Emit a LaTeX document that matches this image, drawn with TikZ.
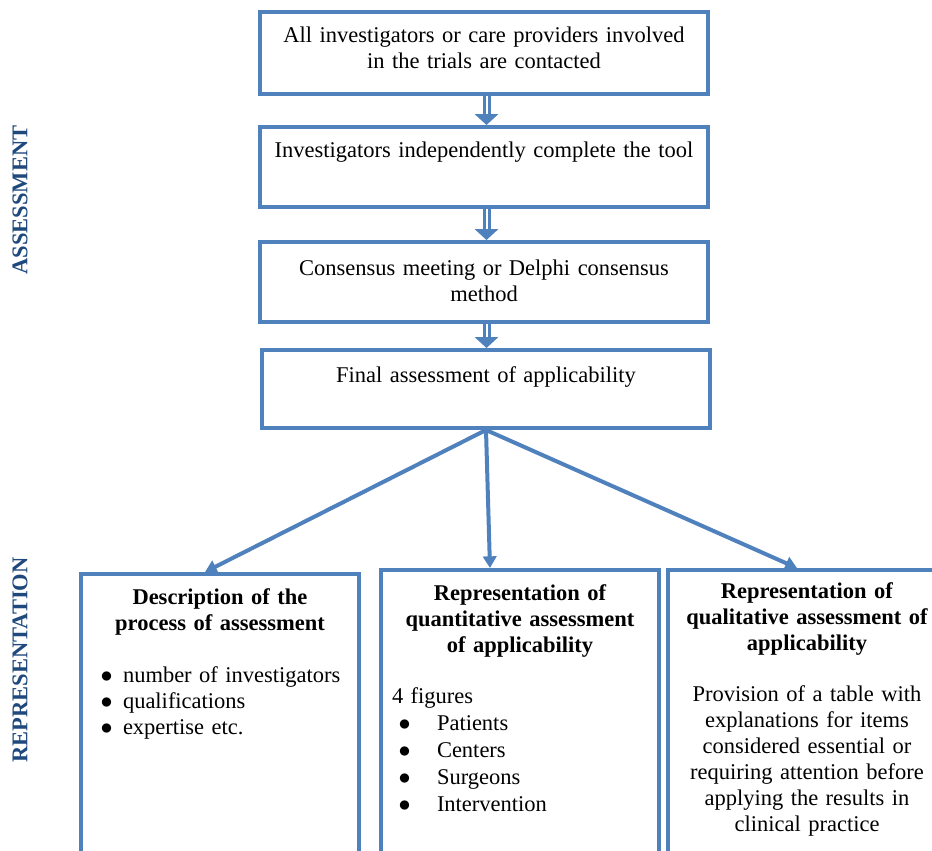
\documentclass[tikz,border=0pt]{standalone}
\usepackage{fontspec}
\setmainfont{Liberation Serif}
\usepackage{tikz}
\usetikzlibrary{positioning, arrows.meta}

\definecolor{boxblue}{HTML}{4F81BD}
\definecolor{labelblue}{HTML}{1F497D}
\setlength{\parindent}{0pt}
\newcommand{\itemdot}[1]{\makebox[#1][l]{\hspace*{1pt}$\bullet$}}

\tikzset{
    stagebox/.style={draw=boxblue, line width=2.4pt, inner sep=0pt, anchor=north,
        text width=268.8pt, align=center},
    repbox/.style={draw=boxblue, line width=2.4pt, inner sep=0pt, anchor=north west,
        text width=166.8pt, text height=18pt, text depth=170pt},
    stepflow/.style={draw=boxblue, line width=1.8pt, double=white, double distance=1.2pt,
        -{Triangle[length=6.6pt, width=14pt]}},
    branchflow/.style={draw=boxblue, line width=2.4pt, -{Triangle[length=7pt, width=8pt]}},
    sidelabel/.style={rotate=90, text=labelblue, font=\fontsize{13.5}{15.6}\selectfont\bfseries},
}

\begin{document}
\begin{tikzpicture}[x=0.6pt, y=-0.6pt, every node/.append style={font=\fontsize{13.5}{15.6}\selectfont}]
        % Page frame (reference size 932 x 851)
        \clip (0,0) rectangle (932,851);

        % --- Assessment steps ---
        \node[stagebox, text height=18pt, text depth=31.2pt] (contact) at (484,10)
            {All investigators or care providers involved\\in the trials are contacted};
        \node[stagebox, text height=18pt, text depth=30pt] (indep) at (484,125)
            {Investigators independently complete the tool};
        \node[stagebox, text height=19.8pt, text depth=28.2pt] (consensus) at (484,240)
            {Consensus meeting or Delphi consensus\\method};
        \node[stagebox, text height=19.2pt, text depth=27.6pt] (final) at (486,348)
            {Final assessment of applicability};

        % Double arrows between the steps
        \draw[stepflow] ([xshift=1.5pt]contact.south) -- ([xshift=1.5pt]contact.south |- indep.north);
        \draw[stepflow] ([xshift=1.5pt]indep.south) -- ([xshift=1.5pt]indep.south |- consensus.north);
        \draw[stepflow] ([xshift=1.5pt]consensus.south) -- ([xshift=1.5pt]consensus.south |- final.north);

        % --- Representation boxes ---
        \node[repbox] (descbox) at (79,572) {%
            {\centering\bfseries Description of the\\process of assessment\par}
            \vspace{15.6pt}
            \hspace*{10.8pt}\itemdot{14.4pt}number of investigators\\
            \hspace*{10.8pt}\itemdot{14.4pt}qualifications\\
            \hspace*{10.8pt}\itemdot{14.4pt}expertise etc.\par};
        \node[repbox] (quantbox) at (379,568) {%
            {\centering\bfseries Representation of\\quantitative assessment\\of applicability\par}
            \vspace{15pt}
            \hspace*{6.6pt}4 figures\\[0.6pt]
            \hspace*{9.6pt}\itemdot{24pt}Patients\\[0.6pt]
            \hspace*{9.6pt}\itemdot{24pt}Centers\\[0.6pt]
            \hspace*{9.6pt}\itemdot{24pt}Surgeons\\[0.6pt]
            \hspace*{9.6pt}\itemdot{24pt}Intervention\par};
        \node[repbox, text height=16.8pt, align=center] (qualbox) at (666,568) {%
            \textbf{Representation of}\\\textbf{qualitative assessment of}\\\textbf{applicability}\\[15pt]
            Provision of a table with\\explanations for items\\considered essential or\\
            requiring attention before\\applying the results in\\clinical practice};

        % Branches from the final assessment
        \draw[branchflow] (final.south) -- ([xshift=-9pt]descbox.north);
        \draw[branchflow] (final.south) -- ([xshift=-18pt]quantbox.north);
        \draw[branchflow] (final.south) -- ([xshift=-6pt]qualbox.north);

        % --- Side labels ---
        \node[sidelabel] (assesslabel) at (20,200) {ASSESSMENT};
        \node[sidelabel] (replabel) at (20,660) {REPRESENTATION};

    \end{tikzpicture}
\end{document}
